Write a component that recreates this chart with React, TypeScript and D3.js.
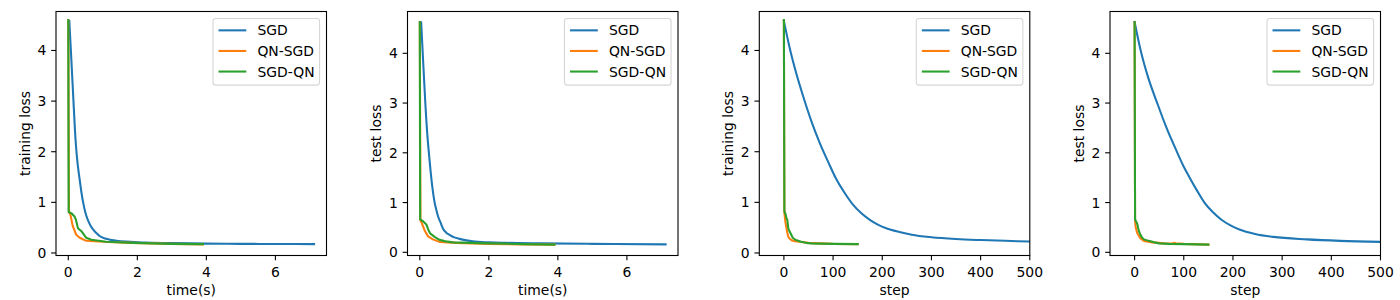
import React from "react";
import * as d3 from "d3";

type Pt = [number, number];

// ---------- data ----------
const seriesNames = ["SGD", "QN-SGD", "SGD-QN"];
const seriesColors = ["#1f77b4", "#ff7f0e", "#2ca02c"];

const timeTicks = [0, 2, 4, 6];
const stepTicks = [0, 100, 200, 300, 400, 500];
const lossTicks = [0, 1, 2, 3, 4];

// panel 1: training loss vs time(s)
const trainTimeSGD: Pt[] = [
  [0.03, 4.58], [0.09, 3.8], [0.15, 3.0], [0.21, 2.24], [0.25, 1.9], [0.29, 1.65], [0.33, 1.45],
  [0.38, 1.2], [0.43, 1.0], [0.48, 0.84], [0.52, 0.74], [0.6, 0.6], [0.68, 0.5], [0.75, 0.44],
  [0.82, 0.39], [0.92, 0.33], [1.1, 0.28], [1.4, 0.24], [1.8, 0.22], [2.2, 0.205],
  [2.95, 0.195], [4, 0.185], [5, 0.18], [6, 0.178], [7.12, 0.175],
];
const trainTimeQNSGD: Pt[] = [
  [0, 4.6], [0.02, 0.8], [0.06, 0.76], [0.13, 0.53], [0.23, 0.36], [0.33, 0.3], [0.52, 0.24],
  [1.0, 0.22], [1.87, 0.2], [3.0, 0.18], [3.9, 0.17],
];
const trainTimeSGDQN: Pt[] = [
  [0, 4.6], [0.01, 0.81], [0.1, 0.78], [0.18, 0.72], [0.22, 0.66], [0.28, 0.49], [0.38, 0.43],
  [0.52, 0.3], [0.67, 0.26], [1.1, 0.22], [1.87, 0.2], [3.0, 0.18], [3.9, 0.175],
];

// panel 2: test loss vs time(s)
const testTimeSGD: Pt[] = [
  [0.04, 4.62], [0.1, 3.8], [0.16, 3.0], [0.23, 2.26], [0.27, 1.95], [0.31, 1.65], [0.36, 1.33],
  [0.43, 1.0], [0.48, 0.85], [0.53, 0.72], [0.6, 0.6], [0.67, 0.48], [0.76, 0.4], [0.86, 0.35],
  [1.0, 0.3], [1.15, 0.27], [1.35, 0.24], [1.53, 0.22], [2.0, 0.2], [2.5, 0.19], [3.5, 0.18],
  [5, 0.17], [7.12, 0.16],
];
const testTimeQNSGD: Pt[] = [
  [0, 4.63], [0.02, 0.64], [0.05, 0.6], [0.14, 0.44], [0.24, 0.32], [0.38, 0.26], [0.57, 0.21],
  [1.05, 0.19], [2.0, 0.17], [3.0, 0.16], [3.9, 0.155],
];
const testTimeSGDQN: Pt[] = [
  [0, 4.63], [0.01, 0.66], [0.1, 0.62], [0.19, 0.56], [0.25, 0.45], [0.3, 0.38], [0.43, 0.31],
  [0.57, 0.25], [0.75, 0.22], [0.96, 0.2], [1.5, 0.19], [2.0, 0.18], [3.0, 0.165], [3.9, 0.155],
];

// panel 3: training loss vs step
const trainStepSGD: Pt[] = [
  [0, 4.58], [13, 4.0], [26, 3.52], [39, 3.1], [56, 2.6], [73, 2.17], [90, 1.8], [107, 1.45],
  [124, 1.18], [140, 0.96], [157, 0.79], [174, 0.66], [191, 0.56], [208, 0.49], [235, 0.415],
  [260, 0.36], [300, 0.31], [350, 0.275], [400, 0.255], [450, 0.24], [500, 0.225],
];
const trainStepQNSGD: Pt[] = [
  [0, 4.6], [1, 0.79], [3, 0.62], [5, 0.5], [7, 0.4], [9, 0.32], [12, 0.28], [16, 0.25],
  [22, 0.23], [32, 0.22], [50, 0.2], [73, 0.19], [100, 0.18], [150, 0.175],
];
const trainStepSGDQN: Pt[] = [
  [0, 4.6], [1, 0.82], [3, 0.78], [5, 0.7], [7, 0.65], [9, 0.48], [12, 0.42], [15, 0.36],
  [18, 0.3], [22, 0.27], [26, 0.25], [35, 0.22], [45, 0.2], [55, 0.19], [70, 0.185],
  [100, 0.18], [150, 0.175],
];

// panel 4: test loss vs step
const testStepSGD: Pt[] = [
  [0, 4.63], [13, 4.03], [28, 3.5], [46, 3.0], [65, 2.5], [87, 2.0], [100, 1.72], [112, 1.5],
  [127, 1.24], [142, 1.0], [160, 0.8], [176, 0.66], [195, 0.54], [213, 0.46], [245, 0.37],
  [282, 0.31], [350, 0.26], [418, 0.23], [500, 0.21],
];
const testStepQNSGD: Pt[] = [
  [0, 4.63], [1, 0.64], [2, 0.52], [5, 0.4], [7.5, 0.35], [12, 0.28], [19, 0.23], [36, 0.2],
  [60, 0.18], [77, 0.178], [80, 0.19], [84, 0.18], [100, 0.17], [150, 0.155],
];
const testStepSGDQN: Pt[] = [
  [0, 4.63], [1, 0.66], [3, 0.62], [5.5, 0.57], [7, 0.5], [9, 0.42], [12, 0.35], [15, 0.3],
  [19, 0.26], [29, 0.23], [40, 0.2], [50, 0.18], [70, 0.17], [100, 0.165], [150, 0.155],
];

// axis limits
const timeXDomain: [number, number] = [-0.356, 7.48];
const stepXDomain: [number, number] = [-50, 500];
const trainYDomain: [number, number] = [-0.05, 4.77];
const testYDomain: [number, number] = [-0.064, 4.84];

const panels = [
  { xlabel: "time(s)", ylabel: "training loss", xDomain: timeXDomain, yDomain: trainYDomain, xTicks: timeTicks, series: [trainTimeSGD, trainTimeQNSGD, trainTimeSGDQN] },
  { xlabel: "time(s)", ylabel: "test loss", xDomain: timeXDomain, yDomain: testYDomain, xTicks: timeTicks, series: [testTimeSGD, testTimeQNSGD, testTimeSGDQN] },
  { xlabel: "step", ylabel: "training loss", xDomain: stepXDomain, yDomain: trainYDomain, xTicks: stepTicks, series: [trainStepSGD, trainStepQNSGD, trainStepSGDQN] },
  { xlabel: "step", ylabel: "test loss", xDomain: stepXDomain, yDomain: testYDomain, xTicks: stepTicks, series: [testStepSGD, testStepQNSGD, testStepSGDQN] },
];

// ---------- layout ----------
const W = 1400;
const H = 300;
const panelLefts = [56, 407.5, 759.3, 1110];
const panelWidth = 270.5;
const top = 11.5;
const bottom = 255.5;
const FONT = "DejaVu Sans, sans-serif";
const FS = 13.9;
const TICK = 4.86;

function Panel({ p, left, idx }: { p: (typeof panels)[number]; left: number; idx: number }) {
  const x = d3.scaleLinear().domain(p.xDomain).range([left, left + panelWidth]);
  const y = d3.scaleLinear().domain(p.yDomain).range([bottom, top]);
  const smooth = d3
    .line<Pt>()
    .x((d) => x(d[0]))
    .y((d) => y(d[1]))
    .curve(d3.curveMonotoneX);
  const straight = d3
    .line<Pt>()
    .x((d) => x(d[0]))
    .y((d) => y(d[1]));
  const clipId = `clip-${idx}`;
  const right = left + panelWidth;
  const legW = 106.6;
  const legH = 66.7;
  const legX = right - 6.95 - legW;
  const legY = top + 6.95;
  const rowH = 20.6;
  return (
    <g>
      <defs>
        <clipPath id={clipId}>
          <rect x={left} y={top} width={panelWidth} height={bottom - top} />
        </clipPath>
      </defs>
      <g clipPath={`url(#${clipId})`}>
        {p.series.map((s, i) => (
          <path
            key={i}
            d={(i === 0 ? smooth(s) : straight(s)) || ""}
            fill="none"
            stroke={seriesColors[i]}
            strokeWidth={2.08}
            strokeLinejoin="round"
            strokeLinecap="square"
          />
        ))}
      </g>
      <rect x={left} y={top} width={panelWidth} height={bottom - top} fill="none" stroke="#000" strokeWidth={1.1} />
      {p.xTicks.map((t) => (
        <g key={`x${t}`}>
          <line x1={x(t)} x2={x(t)} y1={bottom} y2={bottom + TICK} stroke="#000" strokeWidth={1.1} />
          <text x={x(t)} y={bottom + 21.2} textAnchor="middle" fontFamily={FONT} fontSize={FS} fill="#000">
            {t}
          </text>
        </g>
      ))}
      {lossTicks.map((t) => (
        <g key={`y${t}`}>
          <line x1={left - TICK} x2={left} y1={y(t)} y2={y(t)} stroke="#000" strokeWidth={1.1} />
          <text x={left - TICK - 4.86} y={y(t) + 5} textAnchor="end" fontFamily={FONT} fontSize={FS} fill="#000">
            {t}
          </text>
        </g>
      ))}
      <text x={(left + right) / 2} y={294.5} textAnchor="middle" fontFamily={FONT} fontSize={FS} fill="#000">
        {p.xlabel}
      </text>
      <text
        transform={`translate(${left - 26.5},${(top + bottom) / 2}) rotate(-90)`}
        textAnchor="middle"
        fontFamily={FONT}
        fontSize={FS}
        fill="#000"
      >
        {p.ylabel}
      </text>
      <rect x={legX} y={legY} width={legW} height={legH} rx={2.8} fill="#fff" fillOpacity={0.8} stroke="#d6d6d6" strokeWidth={1.1} />
      {seriesNames.map((n, i) => {
        const cy = legY + 11.9 + i * rowH;
        return (
          <g key={n}>
            <line x1={legX + 5.56} x2={legX + 5.56 + 27.8} y1={cy} y2={cy} stroke={seriesColors[i]} strokeWidth={2.08} />
            <text x={legX + 5.56 + 27.8 + 11.1} y={cy + 5} fontFamily={FONT} fontSize={FS} fill="#000">
              {n}
            </text>
          </g>
        );
      })}
    </g>
  );
}

export default function App() {
  return (
    <svg
      width={W}
      height={H}
      viewBox={`0 0 ${W} ${H}`}
      style={{ position: "absolute", left: 0, top: 0, background: "#fff" }}
    >
      <rect x={0} y={0} width={W} height={H} fill="#fff" />
      {panels.map((p, i) => (
        <Panel key={i} p={p} left={panelLefts[i]} idx={i} />
      ))}
    </svg>
  );
}
